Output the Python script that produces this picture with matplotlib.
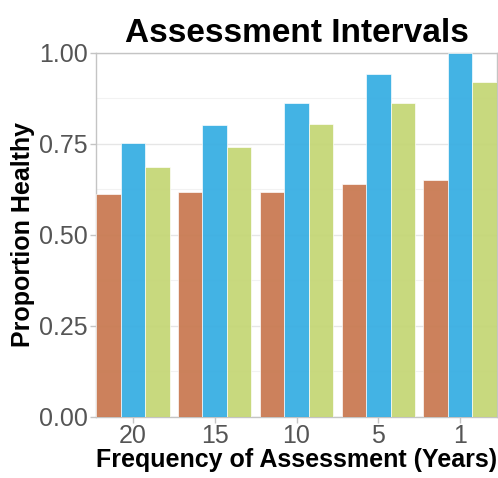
import matplotlib
matplotlib.use("Agg")
import matplotlib.pyplot as plt
import numpy as np
from matplotlib.ticker import MultipleLocator

categories = ["20", "15", "10", "5", "1"]
series_a = [0.611, 0.618, 0.616, 0.639, 0.649]
series_b = [0.752, 0.801, 0.861, 0.942, 1.000]
series_c = [0.685, 0.742, 0.803, 0.861, 0.920]
colors = ["#C8784F", "#35ADE2", "#C4D674"]

plt.rcParams['font.family'] = ['Liberation Sans', 'DejaVu Sans']

W, H = 498, 478
fig = plt.figure(figsize=(W/100, H/100), dpi=100)
ax = fig.add_axes([96/W, (H-416.7)/H, (497-96)/W, (416.7-52.7)/H])

x = np.arange(1, len(categories)+1)
bw = 0.3
for i, (vals, c) in enumerate(zip([series_a, series_b, series_c], colors)):
    ax.bar(x + (i-1)*bw, vals, width=bw, color=c, alpha=0.93,
           edgecolor=(1, 1, 1, 0.2), linewidth=0.5, zorder=3)

ax.set_xlim(0.55, 5.45)
ax.set_ylim(0, 1)
ax.set_xticks(x)
ax.set_xticklabels(categories)
ax.set_yticks([0, 0.25, 0.5, 0.75, 1.0])
ax.set_yticklabels(["0.00", "0.25", "0.50", "0.75", "1.00"])
ax.yaxis.set_minor_locator(MultipleLocator(0.125))
ax.grid(axis='y', which='major', color='#E6E6E6', linewidth=1.0, zorder=0)
ax.grid(axis='y', which='minor', color='#F2F2F2', linewidth=0.8, zorder=0)
ax.set_axisbelow(True)
for s in ax.spines.values():
    s.set_color('#C4C4C4')
    s.set_linewidth(1.0)
ax.tick_params(axis='both', which='major', colors='#C4C4C4', labelcolor='#555555',
               labelsize=18, length=4, width=1.0)
ax.tick_params(axis='y', which='minor', length=0)
ax.tick_params(axis='x', pad=1)
ax.tick_params(axis='y', pad=2)

ax.set_title("Assessment Intervals", fontsize=24, fontweight='bold', pad=8)
ax.set_xlabel("Frequency of Assessment (Years)", fontsize=18, fontweight='bold', labelpad=0)
ax.set_ylabel("Proportion Healthy", fontsize=18, fontweight='bold', labelpad=3)

fig.savefig("out.png", dpi=100, facecolor='white')
